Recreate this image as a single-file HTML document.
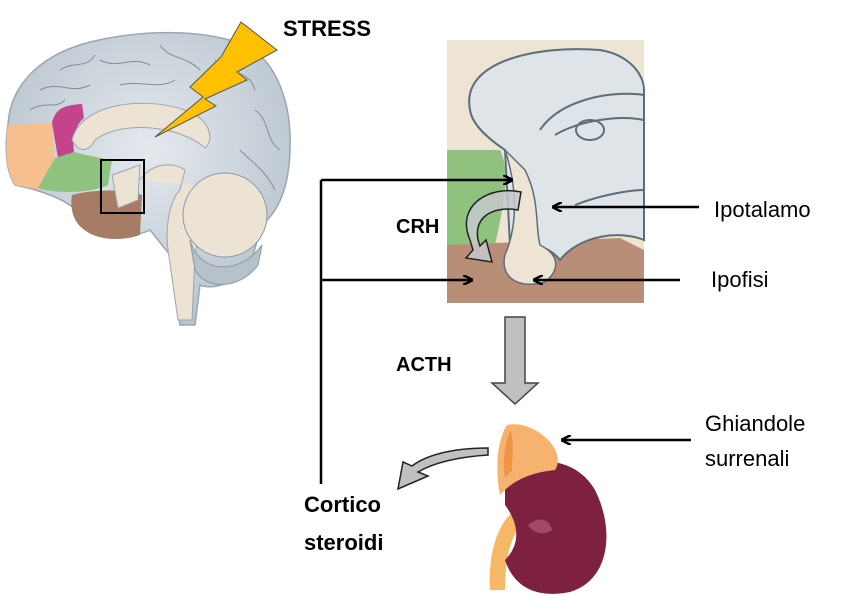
<!DOCTYPE html>
<html><head><meta charset="utf-8"><style>
html,body{margin:0;padding:0;background:#fff;}
svg{display:block;}
text{font-family:"Liberation Sans",sans-serif;}
</style></head><body>
<svg width="857" height="596" viewBox="0 0 857 596" xmlns="http://www.w3.org/2000/svg">
<defs>
<radialGradient id="bg" cx="0.5" cy="0.4" r="0.6"><stop offset="0" stop-color="#e4e9ee"/><stop offset="1" stop-color="#b9c4ce"/></radialGradient>
<marker id="ah" markerWidth="10" markerHeight="10" refX="9" refY="5" orient="auto" markerUnits="userSpaceOnUse"><path d="M0,0 L10,5 L0,10" fill="none" stroke="#000" stroke-width="2.5"/></marker>
</defs>
<!-- brain -->
<path d="M8,125 C10,85 40,55 90,42 C140,30 200,28 245,45 C275,60 292,100 290,150 C289,185 280,210 262,225 L250,265 C235,285 210,290 200,285 L195,325 L180,325 L170,255 L150,230 C130,240 100,232 80,215 C70,200 40,190 15,185 C5,170 5,145 8,125 Z" fill="url(#bg)" stroke="#9aa6b0" stroke-width="1.5"/>
<g fill="none" stroke="#7f8d98" stroke-width="1">
<path d="M40,90 C60,80 70,95 90,85 M100,60 C120,70 130,55 150,65 M160,45 C170,60 185,55 200,70 M215,60 C230,75 250,70 255,90 M255,110 C270,120 265,140 280,150 M240,150 C255,165 265,170 275,190 M60,70 C75,60 85,70 95,55 M120,85 C140,80 160,90 175,80 M30,110 C45,100 55,110 65,100"/>
</g>
<path d="M8,125 L52,123 L55,160 L40,190 L15,185 C5,170 5,145 8,125 Z" fill="#f6c08e"/>
<path d="M52,123 C55,110 62,105 82,104 L84,118 C75,125 72,140 74,152 L58,158 Z" fill="#c4448c"/>
<path d="M55,158 L74,152 C85,155 100,158 112,160 L108,185 C95,192 60,195 38,188 Z" fill="#8fc17f"/>
<path d="M72,195 C90,190 120,188 142,195 L140,235 C120,242 95,240 82,228 C72,220 70,205 72,195 Z" fill="#a67c64"/>
<path d="M72,140 C80,105 140,95 185,110 C210,118 215,140 205,148 C180,125 120,120 95,140 C90,150 80,155 72,140 Z" fill="#ece3d4" stroke="#9aa6b0"/>
<path d="M140,180 C150,165 170,160 185,170 L180,190 C170,200 165,225 168,250 L178,320 L192,320 L195,255 C200,230 200,200 195,185" fill="#ece3d4" stroke="#9aa6b0"/>
<path d="M112,175 L140,165 L138,200 L118,208 Z" fill="#ece3d4" stroke="#9aa6b0"/>
<circle cx="225" cy="215" r="42" fill="#ece3d4" stroke="#8d99a3"/>
<path d="M190,240 C200,275 240,275 262,245 L258,265 C240,290 205,290 195,270 Z" fill="#b7c1ca" stroke="#8d99a3"/>
<rect x="101" y="160" width="43" height="53" fill="none" stroke="#000" stroke-width="2"/>
<!-- bolt -->
<polygon points="241,22 277,50 237,72 247,80 205,99 216,106 155,137 203,97 190,87 221,57" fill="#ffc000" stroke="#555" stroke-width="1"/>
<text x="283" y="36" font-size="22" font-weight="bold">STRESS</text>
<!-- inset -->
<rect x="447" y="40" width="197" height="263" fill="#ede4d4"/>
<path d="M447,150 L500,150 C510,170 505,200 495,245 L447,245 Z" fill="#8fc17f"/>
<path d="M447,245 L620,238 L644,250 L644,303 L447,303 Z" fill="#b98e76"/>
<path d="M470,110 C460,60 540,45 600,50 C630,55 644,75 644,90 L644,240 C620,230 580,235 560,260 C540,235 520,255 510,245 L505,150 C490,140 472,125 470,110 Z" fill="#dfe4e9" stroke="#5d6e78" stroke-width="2"/>
<path d="M505,150 C515,180 520,220 505,255 C500,275 515,290 545,282 C560,270 560,255 540,245 C535,225 540,200 525,170 Z" fill="#ede4d4" stroke="#5d6e78" stroke-width="1.5"/>
<path d="M540,130 C560,100 610,90 644,95 M555,135 C580,120 620,115 644,120 M575,205 C600,195 630,190 644,190" fill="none" stroke="#5d6e78" stroke-width="2"/>
<ellipse cx="590" cy="130" rx="14" ry="10" fill="none" stroke="#5d6e78" stroke-width="2"/>
<path d="M521,192 C490,185 455,205 470,240 L473,250 L466,258 L492,262 L486,240 L480,246 C470,220 490,205 518,210 Z" fill="#c6c9cc" fill-opacity="0.85" stroke="#222" stroke-width="1.5"/>
<!-- connectors -->
<line x1="321" y1="180" x2="321" y2="484" stroke="#000" stroke-width="2.5"/>
<line x1="321" y1="180" x2="512" y2="180" stroke="#000" stroke-width="2.5" marker-end="url(#ah)"/>
<line x1="321" y1="280" x2="472" y2="280" stroke="#000" stroke-width="2.5" marker-end="url(#ah)"/>
<line x1="699" y1="207" x2="553" y2="207" stroke="#000" stroke-width="2.5" marker-end="url(#ah)"/>
<line x1="680" y1="280" x2="534" y2="280" stroke="#000" stroke-width="2.5" marker-end="url(#ah)"/>
<line x1="691" y1="440" x2="562" y2="440" stroke="#000" stroke-width="2.5" marker-end="url(#ah)"/>
<text x="396" y="233" font-size="20" font-weight="bold">CRH</text>
<text x="714" y="217" font-size="22">Ipotalamo</text>
<text x="711" y="287" font-size="22">Ipofisi</text>
<text x="396" y="371" font-size="20" font-weight="bold">ACTH</text>
<text x="705" y="431" font-size="22">Ghiandole</text>
<text x="705" y="466" font-size="22">surrenali</text>
<text x="304" y="512" font-size="22" font-weight="bold">Cortico</text>
<text x="304" y="550" font-size="22" font-weight="bold">steroidi</text>
<!-- down arrow -->
<polygon points="505,317 525,317 525,383 538,383 515,404 492,383 505,383" fill="#c0c0c0" stroke="#444" stroke-width="1.5"/>
<!-- curved arrow -->
<path d="M488,448 C450,448 425,456 412,466 L403,462 L398,489 L428,476 L418,472 C435,462 458,457 488,455 Z" fill="#c0c0c0" stroke="#222" stroke-width="1.5"/>
<!-- kidney -->
<path d="M490,590 C488,560 495,525 515,510 L525,520 C510,535 505,560 505,590 Z" fill="#f4b866"/>
<path d="M505,475 C530,455 575,455 595,490 C615,530 610,580 570,592 C540,598 515,590 505,560 C520,545 520,525 505,505 Z" fill="#7e2141"/>
<path d="M528,525 C540,515 550,520 552,530 C545,535 535,535 528,525 Z" fill="#a04a68"/>
<path d="M507,425 C520,422 535,428 545,437 C555,445 562,460 555,470 C535,472 515,478 500,495 C495,470 497,440 507,425 Z" fill="#f5b36f"/>
<path d="M510,430 C505,445 502,460 505,478 L512,470 C512,455 515,440 510,430 Z" fill="#ef9646"/>
</svg>
</body></html>
